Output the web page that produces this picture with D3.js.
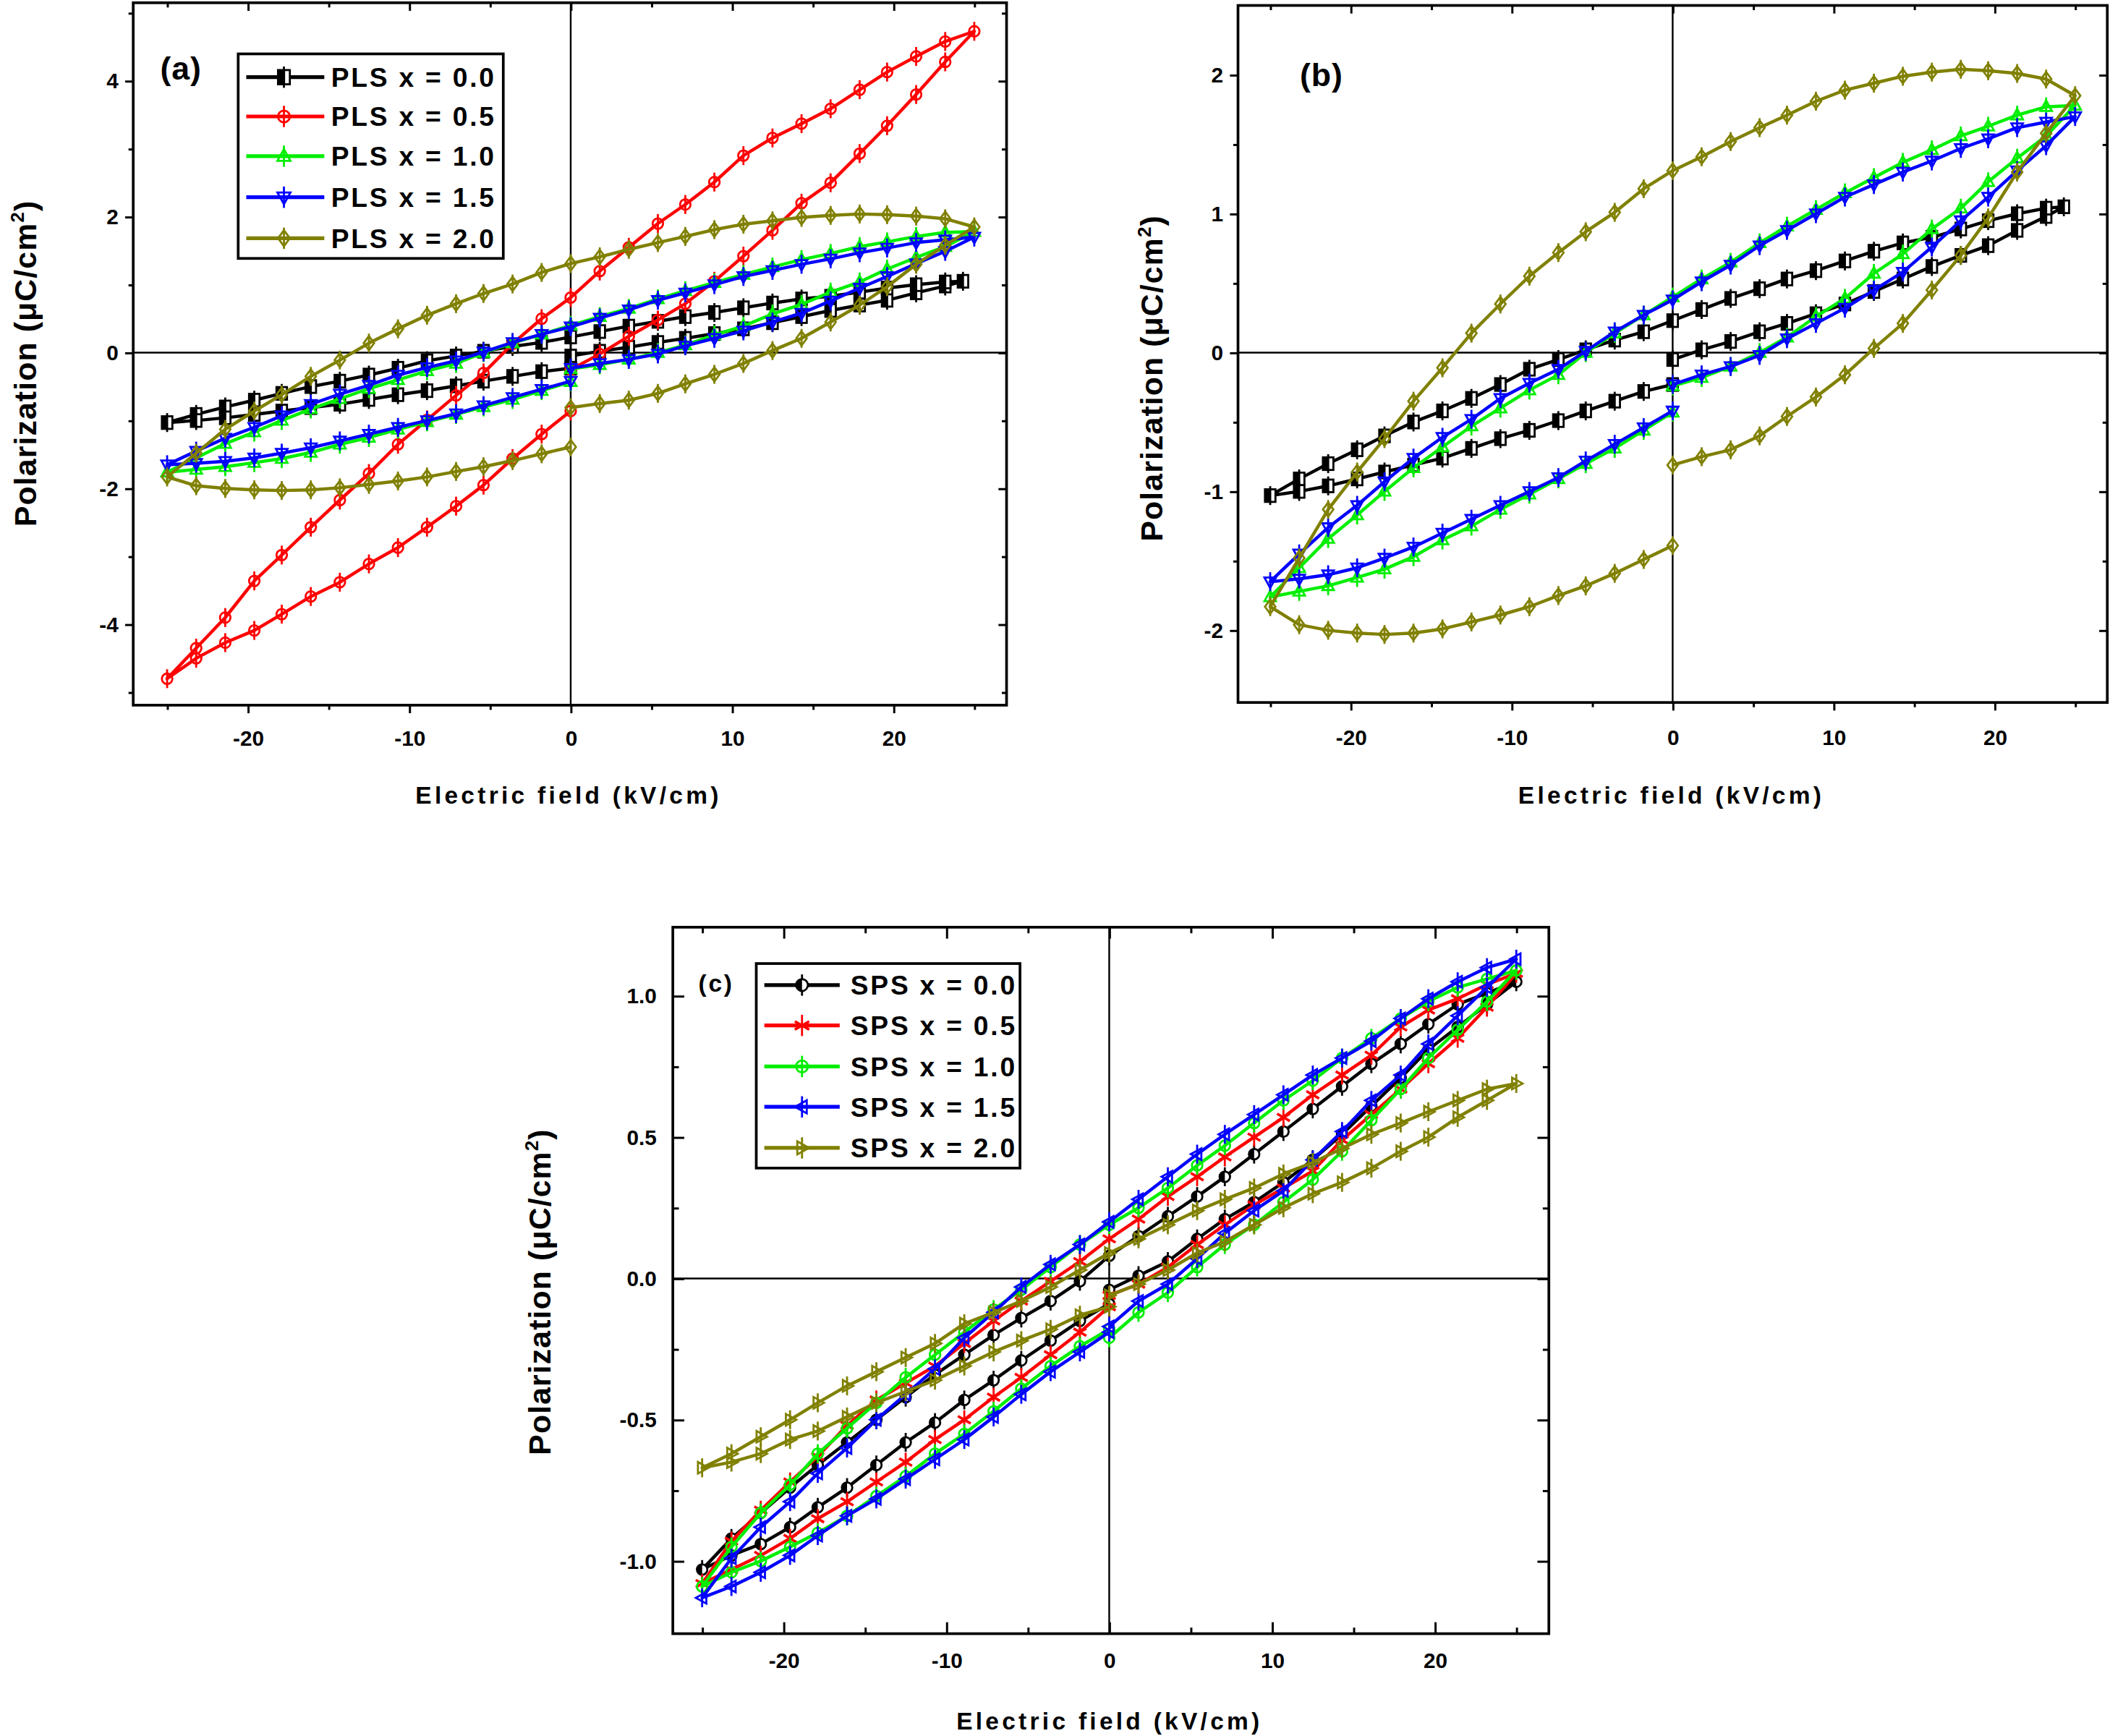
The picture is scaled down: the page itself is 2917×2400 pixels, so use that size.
<!DOCTYPE html>
<html>
<head>
<meta charset="utf-8">
<script src="https://cdn.jsdelivr.net/npm/d3@7/dist/d3.min.js"></script>
<style>
  body { margin: 0; background: #fff; }
  svg { display: block; }
</style>
</head>
<body>
<svg id="fig"></svg>
<script>
// ---- field grid (kV/cm) : rise 0 -> +Emax, fall +Emax -> -Emax, return -Emax -> 0
var E_RISE = [0, 1.8, 3.6, 5.4, 7.1, 8.9, 10.7, 12.5, 14.3, 16.1, 17.9, 19.6, 21.4, 23.2, 25];
var E_FALL = [25, 23.2, 21.4, 19.6, 17.9, 16.1, 14.3, 12.5, 10.7, 8.9, 7.1, 5.4, 3.6, 1.8, 0,
              -1.8, -3.6, -5.4, -7.1, -8.9, -10.7, -12.5, -14.3, -16.1, -17.9, -19.6, -21.4, -23.2, -25];
var E_RETURN = [-25, -23.2, -21.4, -19.6, -17.9, -16.1, -14.3, -12.5, -10.7, -8.9, -7.1, -5.4, -3.6, -1.8, 0];
// PLS x = 0.0 stops a bit short of 25 on the positive side
var E_RISE_PLS0 = [0, 1.8, 3.6, 5.4, 7.1, 8.9, 10.7, 12.5, 14.3, 16.1, 17.9, 19.6, 21.4, 23.2, 24.3];
var E_FALL_PLS0 = [24.3, 23.2, 21.4, 19.6, 17.9, 16.1, 14.3, 12.5, 10.7, 8.9, 7.1, 5.4, 3.6, 1.8, 0,
                   -1.8, -3.6, -5.4, -7.1, -8.9, -10.7, -12.5, -14.3, -16.1, -17.9, -19.6, -21.4, -23.2, -25];

// ---- PLS polarization (uC/cm2)
var pls00_rise = [-0.05, 0.02, 0.08, 0.15, 0.21, 0.28, 0.35, 0.44, 0.53, 0.62, 0.70, 0.77, 0.88, 0.98, 1.05];
var pls00_fall = [1.05, 1.04, 1.00, 0.95, 0.89, 0.83, 0.79, 0.73, 0.66, 0.59, 0.53, 0.46, 0.39, 0.31, 0.23,
                  0.15, 0.09, 0.02, -0.05, -0.12, -0.23, -0.33, -0.42, -0.50, -0.60, -0.70, -0.80, -0.91, -1.03];
var pls00_ret  = [-1.03, -1.00, -0.96, -0.91, -0.86, -0.81, -0.76, -0.69, -0.62, -0.56, -0.49, -0.42, -0.35, -0.28, -0.23];

var pls05_rise = [-0.25, -0.02, 0.24, 0.48, 0.72, 1.05, 1.42, 1.80, 2.20, 2.50, 2.93, 3.34, 3.80, 4.28, 4.73];
var pls05_fall = [4.73, 4.58, 4.36, 4.13, 3.87, 3.59, 3.37, 3.16, 2.90, 2.51, 2.18, 1.90, 1.55, 1.20, 0.81,
                  0.50, 0.13, -0.30, -0.63, -0.99, -1.35, -1.78, -2.17, -2.57, -2.98, -3.36, -3.90, -4.35, -4.80];
var pls05_ret  = [-4.80, -4.50, -4.27, -4.09, -3.85, -3.59, -3.38, -3.11, -2.87, -2.57, -2.26, -1.95, -1.56, -1.20, -0.86];

var pls10_rise = [-0.24, -0.18, -0.10, 0.00, 0.11, 0.26, 0.39, 0.57, 0.71, 0.89, 1.04, 1.23, 1.40, 1.56, 1.78];
var pls10_fall = [1.78, 1.77, 1.71, 1.63, 1.56, 1.46, 1.37, 1.26, 1.15, 1.03, 0.91, 0.79, 0.65, 0.53, 0.40,
                  0.27, 0.14, 0.00, -0.16, -0.27, -0.40, -0.53, -0.68, -0.83, -1.00, -1.17, -1.34, -1.55, -1.76];
var pls10_ret  = [-1.76, -1.72, -1.68, -1.62, -1.56, -1.47, -1.35, -1.25, -1.13, -1.02, -0.91, -0.80, -0.69, -0.56, -0.43];

var pls15_rise = [-0.23, -0.16, -0.10, -0.02, 0.10, 0.21, 0.32, 0.45, 0.58, 0.76, 0.95, 1.12, 1.31, 1.49, 1.70];
var pls15_fall = [1.70, 1.66, 1.62, 1.54, 1.47, 1.38, 1.30, 1.21, 1.12, 1.00, 0.88, 0.77, 0.63, 0.51, 0.38,
                  0.27, 0.15, 0.01, -0.12, -0.22, -0.33, -0.48, -0.61, -0.76, -0.93, -1.10, -1.26, -1.45, -1.65];
var pls15_ret  = [-1.65, -1.63, -1.60, -1.55, -1.48, -1.40, -1.30, -1.20, -1.10, -1.00, -0.90, -0.78, -0.66, -0.54, -0.42];

var pls20_rise = [-0.81, -0.75, -0.70, -0.60, -0.46, -0.32, -0.16, 0.03, 0.21, 0.45, 0.70, 0.97, 1.30, 1.58, 1.85];
var pls20_fall = [1.85, 1.97, 2.01, 2.03, 2.04, 2.02, 1.99, 1.94, 1.89, 1.81, 1.71, 1.62, 1.52, 1.41, 1.31,
                  1.18, 1.01, 0.87, 0.72, 0.55, 0.35, 0.14, -0.11, -0.35, -0.62, -0.86, -1.13, -1.48, -1.83];
var pls20_ret  = [-1.83, -1.96, -2.00, -2.02, -2.03, -2.02, -1.99, -1.94, -1.89, -1.83, -1.75, -1.68, -1.59, -1.49, -1.39];

// ---- SPS polarization (uC/cm2)
var sps00_rise = [-0.04, 0.01, 0.06, 0.14, 0.21, 0.27, 0.34, 0.42, 0.51, 0.61, 0.71, 0.81, 0.89, 0.97, 1.05];
var sps00_fall = [1.05, 1.01, 0.97, 0.90, 0.83, 0.76, 0.68, 0.60, 0.52, 0.44, 0.36, 0.29, 0.22, 0.15, 0.08,
                  -0.01, -0.08, -0.14, -0.20, -0.27, -0.34, -0.42, -0.50, -0.58, -0.66, -0.74, -0.83, -0.92, -1.03];
var sps00_ret  = [-1.03, -0.98, -0.94, -0.88, -0.81, -0.74, -0.66, -0.58, -0.51, -0.43, -0.36, -0.29, -0.22, -0.15, -0.09];

var sps05_rise = [-0.06, -0.02, 0.04, 0.12, 0.19, 0.26, 0.32, 0.38, 0.49, 0.58, 0.67, 0.76, 0.85, 0.96, 1.08];
var sps05_fall = [1.08, 1.04, 0.99, 0.95, 0.89, 0.79, 0.72, 0.65, 0.57, 0.50, 0.43, 0.36, 0.29, 0.21, 0.14,
                  0.06, -0.01, -0.08, -0.15, -0.23, -0.31, -0.37, -0.43, -0.52, -0.63, -0.72, -0.82, -0.93, -1.08];
var sps05_ret  = [-1.08, -1.03, -0.98, -0.92, -0.85, -0.79, -0.72, -0.65, -0.57, -0.50, -0.42, -0.35, -0.27, -0.19, -0.10];

var sps10_rise = [-0.21, -0.12, -0.05, 0.04, 0.12, 0.19, 0.27, 0.35, 0.45, 0.56, 0.67, 0.78, 0.88, 0.98, 1.09];
var sps10_fall = [1.09, 1.06, 1.03, 0.98, 0.92, 0.85, 0.78, 0.70, 0.63, 0.55, 0.47, 0.40, 0.32, 0.25, 0.19,
                  0.12, 0.04, -0.04, -0.11, -0.19, -0.27, -0.35, -0.44, -0.53, -0.62, -0.73, -0.83, -0.95, -1.09];
var sps10_ret  = [-1.09, -1.04, -1.00, -0.95, -0.90, -0.84, -0.77, -0.70, -0.62, -0.55, -0.47, -0.39, -0.31, -0.24, -0.18];

var sps15_rise = [-0.17, -0.08, -0.02, 0.07, 0.16, 0.24, 0.31, 0.42, 0.52, 0.63, 0.72, 0.83, 0.93, 1.03, 1.13];
var sps15_fall = [1.13, 1.10, 1.05, 0.99, 0.92, 0.84, 0.78, 0.72, 0.65, 0.58, 0.51, 0.44, 0.36, 0.28, 0.20,
                  0.12, 0.05, -0.03, -0.12, -0.21, -0.32, -0.41, -0.50, -0.60, -0.69, -0.79, -0.88, -0.99, -1.13];
var sps15_ret  = [-1.13, -1.09, -1.04, -0.98, -0.91, -0.84, -0.78, -0.71, -0.64, -0.57, -0.49, -0.41, -0.33, -0.26, -0.19];

var sps20_rise = [-0.06, -0.02, 0.03, 0.09, 0.13, 0.19, 0.25, 0.30, 0.34, 0.39, 0.45, 0.50, 0.57, 0.63, 0.69];
var sps20_fall = [0.69, 0.67, 0.63, 0.59, 0.55, 0.51, 0.46, 0.41, 0.37, 0.32, 0.28, 0.24, 0.19, 0.14, 0.09,
                  0.03, -0.03, -0.08, -0.12, -0.16, -0.23, -0.28, -0.33, -0.38, -0.44, -0.50, -0.56, -0.62, -0.67];
var sps20_ret  = [-0.67, -0.65, -0.62, -0.57, -0.54, -0.49, -0.44, -0.40, -0.36, -0.31, -0.26, -0.22, -0.18, -0.13, -0.10];

// ---- labels, colours, ticks
var PLS_NAMES = ["PLS x = 0.0", "PLS x = 0.5", "PLS x = 1.0", "PLS x = 1.5", "PLS x = 2.0"];
var SPS_NAMES = ["SPS x = 0.0", "SPS x = 0.5", "SPS x = 1.0", "SPS x = 1.5", "SPS x = 2.0"];
var COLORS = ["#000000", "#ff0000", "#00ee00", "#0000ff", "#808000"];
var PLS_MARKERS = ["halfSquare", "circle", "triUp", "triDown", "diamond"];
var SPS_MARKERS = ["halfCircle", "star", "circle", "triLeft", "triRight"];

var X_MAJOR = [-20, -10, 0, 10, 20];
var X_MINOR = [-25, -15, -5, 5, 15, 25];
var YA_MAJOR = [-4, -2, 0, 2, 4], YA_MINOR = [-5, -3, -1, 1, 3, 5];
var YB_MAJOR = [-2, -1, 0, 1, 2], YB_MINOR = [-1.5, -0.5, 0.5, 1.5];
var YC_MAJOR = [-1.0, -0.5, 0.0, 0.5, 1.0], YC_MINOR = [-0.75, -0.25, 0.25, 0.75];

var X_TITLE = "Electric field (kV/cm)";
var FONT = "'Liberation Sans', Arial, Helvetica, sans-serif";

function loop(eR, pR, eF, pF, eB, pB) {
	var pts = [];
	eR.forEach(function(e, i) { pts.push([e, pR[i]]); });
	eF.forEach(function(e, i) { if (i > 0) pts.push([e, pF[i]]); });
	eB.forEach(function(e, i) { if (i > 0) pts.push([e, pB[i]]); });
	return pts;
}

var plsSeries = [
	{ name: PLS_NAMES[0], color: COLORS[0], marker: PLS_MARKERS[0], pts: loop(E_RISE_PLS0, pls00_rise, E_FALL_PLS0, pls00_fall, E_RETURN, pls00_ret) },
	{ name: PLS_NAMES[1], color: COLORS[1], marker: PLS_MARKERS[1], pts: loop(E_RISE, pls05_rise, E_FALL, pls05_fall, E_RETURN, pls05_ret) },
	{ name: PLS_NAMES[2], color: COLORS[2], marker: PLS_MARKERS[2], pts: loop(E_RISE, pls10_rise, E_FALL, pls10_fall, E_RETURN, pls10_ret) },
	{ name: PLS_NAMES[3], color: COLORS[3], marker: PLS_MARKERS[3], pts: loop(E_RISE, pls15_rise, E_FALL, pls15_fall, E_RETURN, pls15_ret) },
	{ name: PLS_NAMES[4], color: COLORS[4], marker: PLS_MARKERS[4], pts: loop(E_RISE, pls20_rise, E_FALL, pls20_fall, E_RETURN, pls20_ret) }
];
var spsSeries = [
	{ name: SPS_NAMES[0], color: COLORS[0], marker: SPS_MARKERS[0], pts: loop(E_RISE, sps00_rise, E_FALL, sps00_fall, E_RETURN, sps00_ret) },
	{ name: SPS_NAMES[1], color: COLORS[1], marker: SPS_MARKERS[1], pts: loop(E_RISE, sps05_rise, E_FALL, sps05_fall, E_RETURN, sps05_ret) },
	{ name: SPS_NAMES[2], color: COLORS[2], marker: SPS_MARKERS[2], pts: loop(E_RISE, sps10_rise, E_FALL, sps10_fall, E_RETURN, sps10_ret) },
	{ name: SPS_NAMES[3], color: COLORS[3], marker: SPS_MARKERS[3], pts: loop(E_RISE, sps15_rise, E_FALL, sps15_fall, E_RETURN, sps15_ret) },
	{ name: SPS_NAMES[4], color: COLORS[4], marker: SPS_MARKERS[4], pts: loop(E_RISE, sps20_rise, E_FALL, sps20_fall, E_RETURN, sps20_ret) }
];

// ---- figure
var W = 1568, H = 1290;
var svg = d3.select("#fig")
	.attr("width", 2917).attr("height", 2400)
	.attr("viewBox", "0 0 " + W + " " + H);
svg.append("rect").attr("width", W).attr("height", H).attr("fill", "#fff");

function drawMarker(sel, type, color, s) {
	var sw = 1.5;
	sel.append("line").attr("x1", 0).attr("x2", 0).attr("y1", -s * 1.8).attr("y2", s * 1.8)
		.attr("stroke", color).attr("stroke-width", sw);
	if (type == "halfSquare") {
		sel.append("rect").attr("x", -s).attr("y", -s * 1.2).attr("width", 2 * s).attr("height", 2.4 * s)
			.attr("fill", "#fff").attr("stroke", color).attr("stroke-width", sw);
		sel.append("rect").attr("x", -s).attr("y", -s * 1.2).attr("width", s * 1.2).attr("height", 2.4 * s).attr("fill", color);
	} else if (type == "halfCircle") {
		sel.append("circle").attr("r", s).attr("fill", "#fff").attr("stroke", color).attr("stroke-width", sw);
		sel.append("path").attr("d", "M0," + (-s) + " A" + s + "," + s + " 0 0 0 0," + s + " Z").attr("fill", color);
	} else if (type == "circle") {
		sel.append("circle").attr("r", s).attr("fill", "none").attr("stroke", color).attr("stroke-width", sw);
	} else if (type == "star") {
		[30, 150].forEach(function(a) {
			var r = a * Math.PI / 180, dx = Math.cos(r) * s * 1.4, dy = Math.sin(r) * s * 1.4;
			sel.append("line").attr("x1", -dx).attr("y1", -dy).attr("x2", dx).attr("y2", dy)
				.attr("stroke", color).attr("stroke-width", 1.9);
		});
	} else {
		var p;
		if (type == "diamond") p = [[0, -1.35], [1, 0], [0, 1.35], [-1, 0]];
		if (type == "triUp") p = [[0, -1.2], [1.1, 0.8], [-1.1, 0.8]];
		if (type == "triDown") p = [[0, 1.2], [1.1, -0.8], [-1.1, -0.8]];
		if (type == "triLeft") p = [[-1.2, 0], [0.8, -1.1], [0.8, 1.1]];
		if (type == "triRight") p = [[1.2, 0], [-0.8, -1.1], [-0.8, 1.1]];
		sel.append("path")
			.attr("d", "M" + p.map(function(q) { return (q[0] * s) + "," + (q[1] * s); }).join("L") + "Z")
			.attr("fill", "none").attr("stroke", color).attr("stroke-width", sw);
	}
}

function styleAxis(g, fs) {
	g.select(".domain").remove();
	g.selectAll(".tick line").attr("stroke", "#000").attr("stroke-width", 1.6);
	g.selectAll(".tick text").attr("font-family", FONT).attr("font-size", fs).attr("font-weight", "bold").attr("fill", "#000");
}

function drawPanel(cfg, series) {
	var x = d3.scaleLinear().domain(cfg.xDomain).range([cfg.l, cfg.r]);
	var y = d3.scaleLinear().domain(cfg.yDomain).range([cfg.b, cfg.t]);
	var g = svg.append("g");

	// zero lines
	g.append("line").attr("x1", x(0)).attr("x2", x(0)).attr("y1", cfg.t).attr("y2", cfg.b)
		.attr("stroke", "#000").attr("stroke-width", 1.3);
	g.append("line").attr("x1", cfg.l).attr("x2", cfg.r).attr("y1", y(0)).attr("y2", y(0))
		.attr("stroke", "#000").attr("stroke-width", 1.3);

	var draw_line = d3.line().x(function(d) { return x(d[0]); }).y(function(d) { return y(d[1]); });
	series.forEach(function(s) {
		var sg = g.append("g");
		sg.append("path").attr("d", draw_line(s.pts)).attr("fill", "none")
			.attr("stroke", s.color).attr("stroke-width", 2.4).attr("stroke-linejoin", "round");
		sg.selectAll("g.mk").data(s.pts).enter().append("g").attr("class", "mk")
			.attr("transform", function(d) { return "translate(" + x(d[0]) + "," + y(d[1]) + ")"; })
			.each(function() { drawMarker(d3.select(this), s.marker, s.color, 3.9); });
	});

	// axes: out = left/bottom ticks outward, top/right always inward
	var o = cfg.out ? 1 : -1;
	var bMaj = d3.axisBottom(x).tickValues(X_MAJOR).tickSizeInner(o * cfg.major).tickSizeOuter(0)
		.tickPadding(cfg.xPad).tickFormat(function(d) { return String(d); });
	var bMin = d3.axisBottom(x).tickValues(X_MINOR).tickSizeInner(o * cfg.minor).tickSizeOuter(0).tickFormat("");
	var tMaj = d3.axisTop(x).tickValues(X_MAJOR).tickSizeInner(-cfg.major).tickSizeOuter(0).tickFormat("");
	var tMin = d3.axisTop(x).tickValues(X_MINOR).tickSizeInner(-cfg.minor).tickSizeOuter(0).tickFormat("");
	var lMaj = d3.axisLeft(y).tickValues(cfg.yMajor).tickSizeInner(o * cfg.major).tickSizeOuter(0)
		.tickPadding(cfg.yPad).tickFormat(cfg.yFmt);
	var lMin = d3.axisLeft(y).tickValues(cfg.yMinor).tickSizeInner(o * cfg.minor).tickSizeOuter(0).tickFormat("");
	var rMaj = d3.axisRight(y).tickValues(cfg.yMajor).tickSizeInner(-cfg.major).tickSizeOuter(0).tickFormat("");
	var rMin = d3.axisRight(y).tickValues(cfg.yMinor).tickSizeInner(-cfg.minor).tickSizeOuter(0).tickFormat("");

	[[bMaj, 0, cfg.b], [bMin, 0, cfg.b], [tMaj, 0, cfg.t], [tMin, 0, cfg.t],
	 [lMaj, cfg.l, 0], [lMin, cfg.l, 0], [rMaj, cfg.r, 0], [rMin, cfg.r, 0]].forEach(function(a) {
		var ag = g.append("g").attr("transform", "translate(" + a[1] + "," + a[2] + ")").call(a[0]);
		styleAxis(ag, 16);
	});

	// frame
	g.append("rect").attr("x", cfg.l).attr("y", cfg.t).attr("width", cfg.r - cfg.l).attr("height", cfg.b - cfg.t)
		.attr("fill", "none").attr("stroke", "#000").attr("stroke-width", 2);

	// titles
	g.append("text").attr("x", (cfg.l + cfg.r) / 2 - 1).attr("y", cfg.xTitleY)
		.attr("text-anchor", "middle").attr("font-family", FONT).attr("font-size", 18)
		.attr("font-weight", "bold").attr("letter-spacing", 2.3).text(X_TITLE);

	var yt = g.append("text")
		.attr("transform", "translate(" + cfg.yTitleX + "," + cfg.yTitleY + ") rotate(-90)")
		.attr("text-anchor", "middle").attr("font-family", FONT).attr("font-size", 23)
		.attr("font-weight", "bold").attr("letter-spacing", 0.6);
	yt.append("tspan").text("Polarization (\u03bcC/cm");
	yt.append("tspan").attr("dy", -9).attr("font-size", 14).text("2");
	yt.append("tspan").attr("dy", 9).text(")");

	g.append("text").attr("x", cfg.tag[0]).attr("y", cfg.tag[1])
		.attr("font-family", FONT).attr("font-size", cfg.tag[3]).attr("font-weight", "bold")
		.attr("letter-spacing", cfg.tag[4]).text(cfg.tag[2]);

	if (cfg.legend) {
		var L = cfg.legend;
		var lg = g.append("g");
		lg.append("rect").attr("x", L.x).attr("y", L.y).attr("width", L.w).attr("height", L.h)
			.attr("fill", "#fff").attr("stroke", "#000").attr("stroke-width", 2);
		series.forEach(function(s, i) {
			var ry = L.rows[i];
			lg.append("line").attr("x1", L.x1).attr("x2", L.x2).attr("y1", ry).attr("y2", ry)
				.attr("stroke", s.color).attr("stroke-width", 2.8);
			drawMarker(lg.append("g").attr("transform", "translate(" + L.mx + "," + ry + ")"), s.marker, s.color, 4.4);
			lg.append("text").attr("x", L.tx).attr("y", ry).attr("dy", "0.36em")
				.attr("font-family", FONT).attr("font-size", 20).attr("font-weight", "bold")
				.attr("letter-spacing", 1.5).text(s.name);
		});
	}
}

var intFmt = function(d) { return String(d); };

drawPanel({
	l: 99, r: 748, t: 2, b: 524, xDomain: [-27.1, 27], yDomain: [-5.19, 5.15],
	yMajor: YA_MAJOR, yMinor: YA_MINOR, yFmt: intFmt, out: true, major: 6, minor: 3.5,
	xPad: 13, yPad: 5, xTitleY: 597, yTitleX: 27, yTitleY: 270, tag: [119, 59, "(a)", 24, 0.5],
	legend: { x: 177, y: 40, w: 197, h: 152, rows: [57.3, 86.5, 116, 146.5, 177],
	          x1: 183, x2: 241, mx: 211, tx: 246 }
}, plsSeries);

drawPanel({
	l: 920, r: 1566, t: 4, b: 522, xDomain: [-27, 27], yDomain: [-2.52, 2.5],
	yMajor: YB_MAJOR, yMinor: YB_MINOR, yFmt: intFmt, out: true, major: 6, minor: 3.5,
	xPad: 14, yPad: 5, xTitleY: 597, yTitleX: 864, yTitleY: 281, tag: [966, 64, "(b)", 24, 0.5],
	legend: null
}, plsSeries.filter(function(s, i) { return i != 1; }));

drawPanel({
	l: 500, r: 1151, t: 689, b: 1214, xDomain: [-26.8, 27], yDomain: [-1.257, 1.243],
	yMajor: YC_MAJOR, yMinor: YC_MINOR, yFmt: function(d) { return d.toFixed(1); },
	out: false, major: 8.5, minor: 4.5,
	xPad: 14, yPad: 12, xTitleY: 1285, yTitleX: 409, yTitleY: 960, tag: [519, 737, "(c)", 18, 1.5],
	legend: { x: 562, y: 716, w: 196, h: 152, rows: [732, 762, 792.5, 822.5, 853],
	          x1: 568, x2: 624, mx: 596, tx: 632 }
}, spsSeries);
</script>
</body>
</html>
